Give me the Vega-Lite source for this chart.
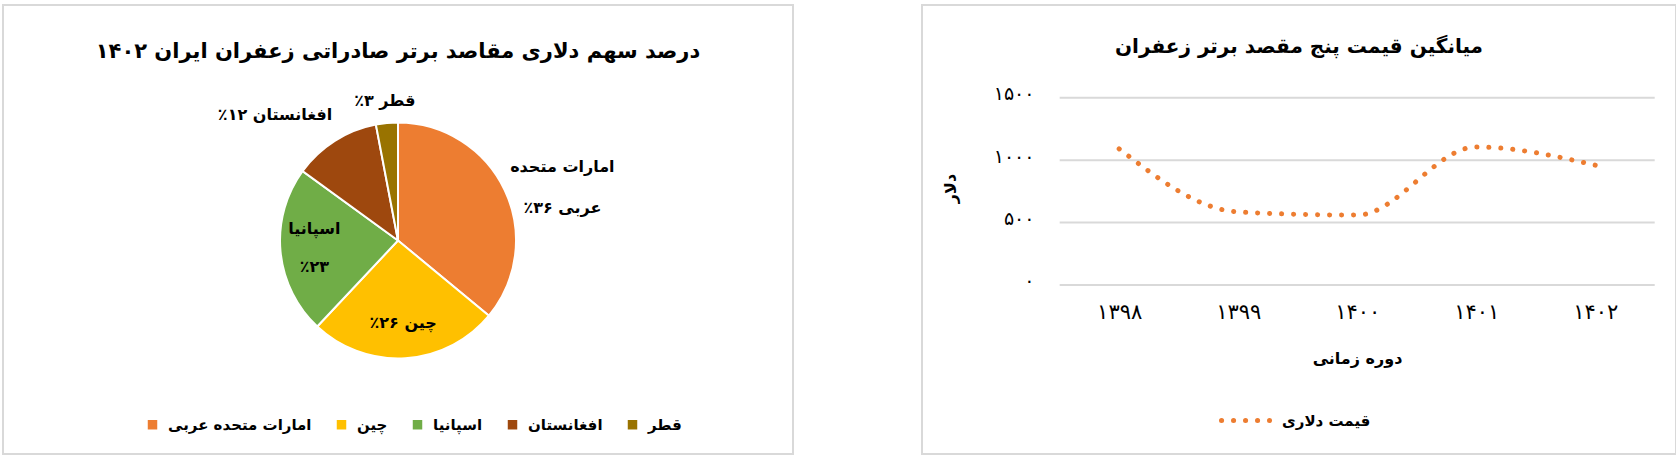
{
  "$schema": "https://vega.github.io/schema/vega-lite/v6.json",
  "padding": {"left": 2, "top": 4, "right": 0, "bottom": 0},
  "background": "white",
  "spacing": 127,
  "resolve": {"scale": {"color": "independent"}, "legend": {"color": "independent"}},
  "config": {
    "font": "DejaVu Sans",
    "view": {"stroke": "#d9d9d9", "strokeWidth": 2},
    "title": {"font": "DejaVu Sans", "fontWeight": "bold", "color": "#000", "anchor": "middle", "frame": "group"},
    "axis": {"labelColor": "#000", "titleColor": "#000", "labelFont": "DejaVu Sans", "titleFont": "DejaVu Sans"},
    "legend": {"labelColor": "#000", "labelFont": "DejaVu Sans"}
  },
  "hconcat": [
    {
      "width": 790,
      "height": 449,
      "view": {"stroke": "#d9d9d9", "strokeWidth": 2},
      "title": {
        "text": "درصد سهم دلاری مقاصد برتر صادراتی زعفران ایران ۱۴۰۲",
        "fontSize": 21,
        "baseline": "middle",
        "offset": -68
      },
      "data": {
        "values": [
          {"country": "امارات متحده عربی", "share": 36, "rank": 1, "label": "امارات متحده\nعربی ۳۶٪\u200f"},
          {"country": "چین", "share": 26, "rank": 2, "label": "چین ۲۶٪\u200f"},
          {"country": "اسپانیا", "share": 23, "rank": 3, "label": "اسپانیا\n٪۲۳"},
          {"country": "افغانستان", "share": 12, "rank": 4, "label": "افغانستان ۱۲٪\u200f"},
          {"country": "قطر", "share": 3, "rank": 5, "label": "قطر ۳٪\u200f"}
        ]
      },
      "encoding": {
        "theta": {"field": "share", "type": "quantitative", "stack": true},
        "order": {"field": "rank", "type": "quantitative"}
      },
      "layer": [
        {
          "mark": {"type": "arc", "outerRadius": 118, "stroke": "white", "strokeWidth": 2, "yOffset": 11},
          "encoding": {
            "color": {
              "field": "country",
              "type": "nominal",
              "scale": {
                "domain": ["امارات متحده عربی", "چین", "اسپانیا", "افغانستان", "قطر"],
                "range": ["#ED7D31", "#FFC000", "#70AD47", "#9E480E", "#997300"]
              },
              "legend": {
                "orient": "none",
                "legendX": 142,
                "legendY": 412,
                "direction": "horizontal",
                "title": null,
                "symbolType": "square",
                "symbolSize": 90,
                "symbolStrokeWidth": 0,
                "labelFontSize": 15,
                "labelFontWeight": "bold",
                "labelOffset": 8,
                "columnPadding": 22,
                "labelLimit": 0
              }
            }
          }
        },
        {
          "mark": {"type": "text", "radius": 83, "yOffset": 11, "fontSize": 16, "fontWeight": "bold", "color": "#000"},
          "encoding": {
            "text": {"condition": {"test": "datum.rank == 2", "field": "label"}, "value": ""}
          }
        },
        {
          "mark": {"type": "text", "radius": 84, "yOffset": 11, "dy": -19, "fontSize": 16, "fontWeight": "bold", "lineBreak": "\n", "lineHeight": 38, "color": "#000"},
          "encoding": {
            "text": {"condition": {"test": "datum.rank == 3", "field": "label"}, "value": ""}
          }
        },
        {
          "mark": {"type": "text", "radius": 140, "yOffset": 11, "fontSize": 16, "fontWeight": "bold", "color": "#000"},
          "encoding": {
            "text": {"condition": {"test": "datum.rank == 5", "field": "label"}, "value": ""}
          }
        },
        {
          "mark": {"type": "text", "radius": 180, "thetaOffset": 0.02, "yOffset": 11, "fontSize": 16, "fontWeight": "bold", "lineBreak": "\n", "lineHeight": 41, "color": "#000"},
          "encoding": {
            "text": {"condition": {"test": "datum.rank == 1", "field": "label"}, "value": ""}
          }
        },
        {
          "mark": {"type": "text", "radius": 176, "thetaOffset": -0.208, "yOffset": 11, "fontSize": 16, "fontWeight": "bold", "color": "#000"},
          "encoding": {
            "text": {"condition": {"test": "datum.rank == 4", "field": "label"}, "value": ""}
          }
        }
      ]
    },
    {
      "width": 754,
      "height": 449,
      "title": {
        "text": "میانگین قیمت پنج مقصد برتر زعفران",
        "fontSize": 20,
        "baseline": "middle",
        "offset": -62
      },
      "data": {
        "values": [
          {"kind": "grid", "value": 0},
          {"kind": "grid", "value": 500},
          {"kind": "grid", "value": 1000},
          {"kind": "grid", "value": 1500},
          {"kind": "price", "year": 1398, "value": 1090, "series": "قیمت دلاری"},
          {"kind": "price", "year": 1399, "value": 585, "series": "قیمت دلاری"},
          {"kind": "price", "year": 1400, "value": 560, "series": "قیمت دلاری"},
          {"kind": "price", "year": 1401, "value": 1105, "series": "قیمت دلاری"},
          {"kind": "price", "year": 1402, "value": 960, "series": "قیمت دلاری"}
        ]
      },
      "encoding": {
        "y": {
          "field": "value",
          "type": "quantitative",
          "scale": {"domain": [-1353.4, 2242.3], "nice": false, "zero": false},
          "axis": {
            "values": [0, 500, 1000, 1500],
            "labelExpr": "['۰', '۵۰۰', '۱۰۰۰', '۱۵۰۰'][datum.value / 500]",
            "offset": -112,
            "domain": false,
            "ticks": false,
            "grid": false,
            "labelFontSize": 19,
            "labelPadding": 0,
            "labelOffset": -4,
            "title": "دلار",
            "titleFontSize": 16,
            "titleFontWeight": "bold",
            "titleX": -84,
            "titleY": 183,
            "titleBaseline": "middle",
            "titleAlign": "center"
          }
        }
      },
      "layer": [
        {
          "transform": [{"filter": "datum.kind == 'grid'"}],
          "mark": {"type": "rule", "color": "#d9d9d9", "strokeWidth": 2},
          "encoding": {
            "x": {
              "datum": 1397.5,
              "type": "quantitative",
              "scale": {"domain": [1396.343, 1402.679], "nice": false, "zero": false},
              "axis": {
                "values": [1398, 1399, 1400, 1401, 1402],
                "labelExpr": "['۱۳۹۸', '۱۳۹۹', '۱۴۰۰', '۱۴۰۱', '۱۴۰۲'][datum.value - 1398]",
                "offset": -169,
                "domain": false,
                "ticks": false,
                "grid": false,
                "labelFontSize": 21,
                "labelBaseline": "middle",
                "labelPadding": 27,
                "title": "دوره زمانی",
                "titleFontSize": 16,
                "titleFontWeight": "bold",
                "titleX": 435,
                "titleY": 73,
                "titleBaseline": "middle"
              }
            },
            "x2": {"datum": 1402.5}
          }
        },
        {
          "transform": [{"filter": "datum.kind == 'price'"}],
          "mark": {"type": "line", "interpolate": "monotone", "strokeWidth": 5, "strokeCap": "round", "strokeDash": [0.1, 11.9]},
          "encoding": {
            "x": {
              "field": "year",
              "type": "quantitative",
              "scale": {"domain": [1396.343, 1402.679], "nice": false, "zero": false},
              "axis": {
                "values": [1398, 1399, 1400, 1401, 1402],
                "labelExpr": "['۱۳۹۸', '۱۳۹۹', '۱۴۰۰', '۱۴۰۱', '۱۴۰۲'][datum.value - 1398]",
                "offset": -169,
                "domain": false,
                "ticks": false,
                "grid": false,
                "labelFontSize": 21,
                "labelBaseline": "middle",
                "labelPadding": 27,
                "title": "دوره زمانی",
                "titleFontSize": 16,
                "titleFontWeight": "bold",
                "titleX": 435,
                "titleY": 73,
                "titleBaseline": "middle"
              }
            },
            "color": {
              "field": "series",
              "type": "nominal",
              "scale": {"domain": ["قیمت دلاری"], "range": ["#ED7D31"]},
              "legend": {
                "orient": "none",
                "legendX": 297,
                "legendY": 386,
                "title": null,
                "symbolType": "stroke",
                "symbolSize": 2916,
                "symbolStrokeWidth": 5,
                "symbolDash": [0.1, 11.9],
                "labelFontSize": 15,
                "labelFontWeight": "bold",
                "labelOffset": 4,
                "encode": {"symbols": {"update": {"strokeCap": {"value": "round"}}}}
              }
            }
          }
        }
      ]
    }
  ]
}
